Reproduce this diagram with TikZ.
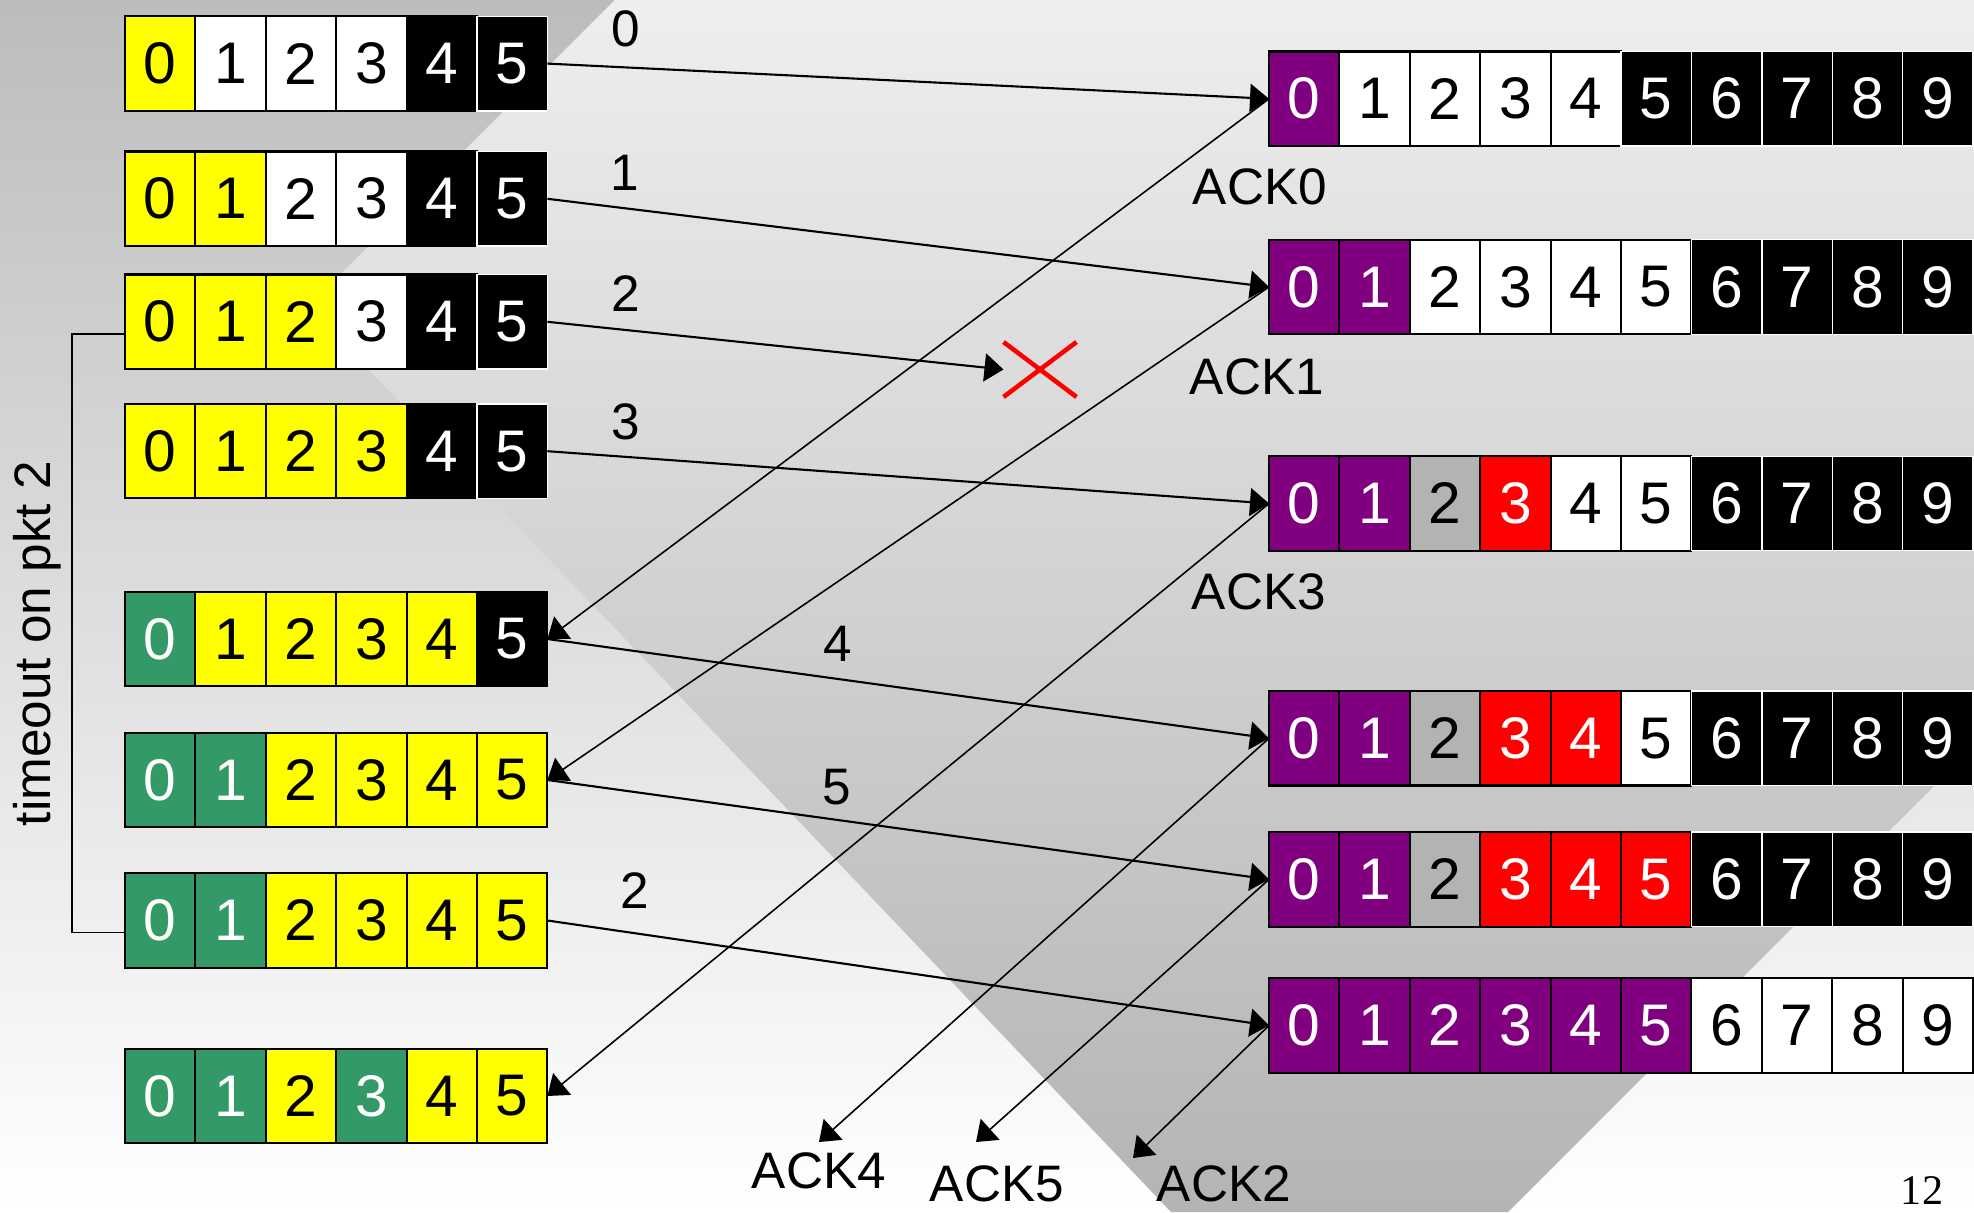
\documentclass[tikz,border=0pt]{standalone}
\usepackage{fontspec}
\setmainfont{Liberation Sans}
\newfontfamily\pagenumfont{Liberation Serif}
\usepackage{tikz}
\usetikzlibrary{arrows.meta,shapes.misc}
\definecolor{WinYellow}{HTML}{FFFF00}
\definecolor{WinGreen}{HTML}{339966}
\definecolor{WinPurple}{HTML}{800080}
\definecolor{WinRed}{HTML}{FF0000}
\definecolor{WinGray}{HTML}{B3B3B3}
\definecolor{BackTop}{HTML}{BCBCBC}
\definecolor{BackMid}{HTML}{E5E5E5}
\definecolor{WedgeTop}{HTML}{EEEEEE}
\definecolor{WedgeMid}{HTML}{CACACA}
\definecolor{WedgeBot}{HTML}{B4B4B4}

\begin{document}
\begin{tikzpicture}[
  x=1cm,
  y=1cm,
  font=\fontsize{14.6}{17}\selectfont,
  cell/.style={
    draw,
    line width=0.6pt,
    minimum width=0.704cm,
    minimum height=0.945cm,
    inner sep=0pt,
    outer sep=0pt,
    font=\fontsize{16.7}{20}\selectfont
  },
  yelcell/.style={cell, fill=WinYellow},
  whtcell/.style={cell, fill=white},
  blkcell/.style={cell, fill=black, text=white},
  outcell/.style={cell, fill=black, text=white, draw=white, line width=0.4pt},
  grncell/.style={cell, fill=WinGreen, text=white},
  purcell/.style={cell, fill=WinPurple, text=white},
  redcell/.style={cell, fill=WinRed, text=white},
  grycell/.style={cell, fill=WinGray},
  arrow/.style={-{Triangle[length=1.9mm,width=2.8mm]}, line width=0.6pt},
  ackarrow/.style={arrow, line width=0.45pt}
]
\useasboundingbox (0,0) rectangle (19.74,12.12);

% slide background
\shade[top color=BackTop, middle color=BackMid, bottom color=white] (0,0) rectangle (19.74,12.12);
\shade[top color=WedgeTop, middle color=WedgeMid, bottom color=WedgeBot]
  (6.15,12.12) -- (19.74,12.12) -- (19.74,4.66) -- (15.08,0) -- (11.71,0) -- (3.085,9.055) -- cycle;

% sender windows
\foreach \row/\ypos/\kinds in {
  1/11.484/{yel,wht,wht,wht,blk,out},
  2/10.132/{yel,yel,wht,wht,blk,out},
  3/8.902/{yel,yel,yel,wht,blk,out},
  4/7.608/{yel,yel,yel,yel,blk,out},
  5/5.730/{grn,yel,yel,yel,yel,blk},
  6/4.320/{grn,grn,yel,yel,yel,yel},
  7/2.915/{grn,grn,yel,yel,yel,yel},
  8/1.160/{grn,grn,yel,grn,yel,yel}}
  \foreach \kind [count=\i from 0] in \kinds
    \node[\kind cell] (snd\row c\i) at ({1.602+0.704*\i},\ypos) {\i};

% receiver windows
\foreach \row/\ypos/\kinds in {
  1/11.132/{pur,wht,wht,wht,wht,out,out,out,out,out},
  2/9.250/{pur,pur,wht,wht,wht,wht,out,out,out,out},
  3/7.085/{pur,pur,gry,red,wht,wht,out,out,out,out},
  4/4.737/{pur,pur,gry,red,red,wht,out,out,out,out},
  5/3.326/{pur,pur,gry,red,red,red,out,out,out,out},
  6/1.865/{pur,pur,pur,pur,pur,pur,wht,wht,wht,wht}}
  \foreach \kind [count=\i from 0] in \kinds
    \node[\kind cell] (rcv\row c\i) at ({13.042+0.704*\i},\ypos) {\i};

\node[cross out, draw=WinRed, line width=1.3pt, minimum width=0.73cm, minimum height=0.55cm,
  inner sep=0pt, outer sep=0pt] (lost) at (10.40,8.425) {};

\coordinate (ack4end) at (8.19,0.70);
\coordinate (ack5end) at (9.76,0.70);
\coordinate (ack2end) at (11.33,0.54);

% packet labels
\node (seq0) at (6.26,11.835) {0};
\node (seq1) at (6.25,10.395) {1};
\node (seq2) at (6.257,9.187) {2};
\node (seq3) at (6.26,7.903) {3};
\node (seq4) at (8.375,5.68) {4};
\node (seq5) at (8.37,4.25) {5};
\node (seq2re) at (6.35,3.21) {2};

% ack labels
\node (ack0) at (12.60,10.253) {ACK0};
\node (ack1) at (12.57,8.35) {ACK1};
\node (ack3) at (12.59,6.20) {ACK3};
\node (ack4) at (8.19,0.41) {ACK4};
\node (ack5) at (9.97,0.28) {ACK5};
\node (ack2) at (12.24,0.28) {ACK2};

\node[rotate=90] (timeout) at (0.375,5.685) {timeout on pkt 2};
\node[font=\pagenumfont\fontsize{12}{12}\selectfont, anchor=base, inner sep=0pt] (pagenum) at (19.22,0.08) {12};

% packets
\draw[arrow] (snd1c5.east) -- (rcv1c0.west);
\draw[arrow] (snd2c5.east) -- (rcv2c0.west);
\draw[arrow] (snd3c5.east) -- (lost.west);
\draw[arrow] (snd4c5.east) -- (rcv3c0.west);
\draw[arrow] (snd5c5.east) -- (rcv4c0.west);
\draw[arrow] (snd6c5.east) -- (rcv5c0.west);
\draw[arrow] (snd7c5.east) -- (rcv6c0.west);

% acks
\draw[ackarrow] (rcv1c0.west) -- (snd5c5.east);
\draw[ackarrow] (rcv2c0.west) -- (snd6c5.east);
\draw[ackarrow] (rcv3c0.west) -- (snd8c5.east);
\draw[ackarrow] (rcv4c0.west) -- (ack4end);
\draw[ackarrow] (rcv5c0.west) -- (ack5end);
\draw[ackarrow] (rcv6c0.west) -- (ack2end);

% timeout bracket
\draw[line width=0.45pt] ([yshift=-1.2mm]snd3c0.west) -- ++(-0.53,0) |- ([yshift=-1.2mm]snd7c0.west);
\end{tikzpicture}
\end{document}
